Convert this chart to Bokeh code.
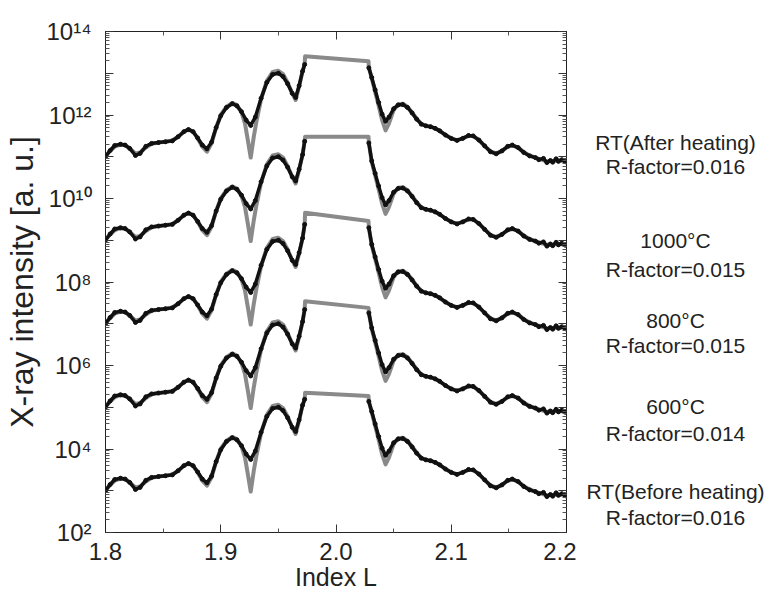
from bokeh.plotting import figure
from bokeh.layouts import row
from bokeh.models import (FixedTicker, CustomJSTickFormatter, LinearAxis, LogAxis,
                          Label, PrintfTickFormatter)
from bokeh.embed import file_html
from bokeh.resources import INLINE

# ---------------- data ----------------
# measured curve shape (log10 intensity, relative to each curve's stacking offset)
L_meas_left = [1.800, 1.804, 1.808, 1.813, 1.817, 1.821, 1.826, 1.830, 1.835, 1.840,
               1.846, 1.852, 1.858, 1.863, 1.868, 1.872, 1.876, 1.880, 1.884, 1.888,
               1.892, 1.896, 1.900, 1.905, 1.910, 1.914, 1.918, 1.922, 1.926, 1.930,
               1.935, 1.940, 1.945, 1.950, 1.954, 1.958, 1.962, 1.965, 1.968, 1.971]
rel_meas_left = [3.00, 3.15, 3.27, 3.30, 3.28, 3.20, 3.03, 3.08, 3.25, 3.32,
                 3.34, 3.36, 3.38, 3.48, 3.60, 3.65, 3.60, 3.45, 3.28, 3.19,
                 3.35, 3.70, 3.98, 4.18, 4.27, 4.22, 4.08, 3.88, 3.75, 3.95,
                 4.40, 4.78, 4.97, 5.00, 4.92, 4.75, 4.52, 4.42, 4.70, 5.05]
L_meas_right = [2.031, 2.034, 2.037, 2.040, 2.043, 2.046, 2.050, 2.054, 2.058, 2.062,
                2.066, 2.070, 2.074, 2.078, 2.082, 2.086, 2.090, 2.095, 2.100, 2.105,
                2.110, 2.115, 2.119, 2.124, 2.129, 2.134, 2.139, 2.144, 2.149, 2.153,
                2.158, 2.163, 2.168, 2.173, 2.176, 2.180, 2.183, 2.186, 2.188, 2.191,
                2.193, 2.196, 2.199]
rel_meas_right = [4.90, 4.60, 4.30, 4.02, 3.85, 3.95, 4.15, 4.24, 4.25, 4.18,
                  4.05, 3.90, 3.78, 3.74, 3.72, 3.68, 3.62, 3.52, 3.44, 3.39,
                  3.44, 3.51, 3.50, 3.40, 3.26, 3.12, 3.07, 3.14, 3.25, 3.28,
                  3.22, 3.10, 3.02, 2.98, 2.93, 2.96, 2.86, 2.91, 2.87, 2.95,
                  2.89, 2.93, 2.88]

# fitted curve shape
L_fit_left = [1.800, 1.804, 1.808, 1.813, 1.817, 1.821, 1.826, 1.830, 1.835, 1.840,
              1.846, 1.852, 1.858, 1.863, 1.868, 1.872, 1.876, 1.880, 1.884, 1.888,
              1.892, 1.896, 1.900, 1.905, 1.910, 1.914, 1.918, 1.921, 1.9235, 1.926,
              1.9285, 1.931, 1.935, 1.940, 1.945, 1.950, 1.954, 1.958, 1.962, 1.965,
              1.968, 1.971]
rel_fit_left = [3.02, 3.14, 3.24, 3.29, 3.28, 3.20, 3.08, 3.10, 3.22, 3.31,
                3.34, 3.36, 3.39, 3.48, 3.60, 3.66, 3.60, 3.44, 3.24, 3.12,
                3.32, 3.70, 4.00, 4.20, 4.29, 4.24, 4.06, 3.80, 3.40, 2.98,
                3.45, 3.85, 4.38, 4.82, 5.03, 5.06, 4.98, 4.78, 4.52, 4.36,
                4.68, 5.05]
L_fit_right = [2.031, 2.034, 2.037, 2.040, 2.043, 2.046, 2.050, 2.054, 2.058, 2.062,
               2.066, 2.070, 2.074, 2.078, 2.082, 2.086, 2.090, 2.095, 2.100, 2.105,
               2.110, 2.115, 2.119, 2.124, 2.129, 2.134, 2.139, 2.144, 2.149, 2.153,
               2.158, 2.163, 2.168, 2.173, 2.178, 2.183, 2.188, 2.193, 2.200]
rel_fit_right = [4.88, 4.55, 4.22, 3.88, 3.63, 3.80, 4.12, 4.26, 4.27, 4.20,
                 4.06, 3.91, 3.79, 3.74, 3.72, 3.68, 3.62, 3.52, 3.44, 3.40,
                 3.44, 3.50, 3.50, 3.40, 3.26, 3.13, 3.08, 3.14, 3.24, 3.27,
                 3.22, 3.11, 3.03, 2.98, 2.93, 2.89, 2.90, 2.91, 2.90]

# flat-top segment (fit) and edges of the measured gap
L_gap_start = 1.9732
L_gap_end = 2.0282

# per curve (bottom to top)
curve_names = ["RT(Before heating)", "600°C", "800°C", "1000°C", "RT(After heating)"]
r_factors = ["R-factor=0.016", "R-factor=0.014", "R-factor=0.015", "R-factor=0.015", "R-factor=0.016"]
offset_exp = [0, 2, 4, 6, 8]
meas_peak_left = [5.19, 5.34, 5.38, 5.37, 5.21]
meas_peak_right = [5.14, 5.26, 5.30, 5.33, 5.13]
fit_top_left = [5.35, 5.54, 5.66, 5.48, 5.41]
fit_top_right = [5.27, 5.38, 5.46, 5.48, 5.29]

# label baselines (log10 position)
name_y = [2.99, 5.02, 7.08, 9.00, 11.33]
rf_y = [2.37, 4.36, 6.47, 8.31, 10.76]

y_tick_exps = [2, 4, 6, 8, 10, 12, 14]
y_tick_labels = ["10²", "10⁴", "10⁶", "10⁸", "10¹⁰", "10¹²", "10¹⁴"]
x_ticks = [1.8, 1.9, 2.0, 2.1, 2.2]
x_minor = [1.85, 1.95, 2.05, 2.15]

FONT = "Liberation Sans"
TOP = 31
BOTTOM = 52

p = figure(frame_width=461, frame_height=501, y_axis_type="log",
           x_range=(1.8, 2.2), y_range=(1e2, 1e14),
           output_backend="svg", toolbar_location=None,
           min_border_left=99, min_border_right=10, min_border_top=TOP, min_border_bottom=BOTTOM)
p.grid.visible = False
p.outline_line_color = "#222222"

GRAY = "#8a8a8a"
for k in range(5):
    s = 10 ** offset_exp[k]
    fx = L_fit_left + [L_gap_start - 0.0004, L_gap_start, L_gap_end, L_gap_end + 0.0003] + L_fit_right
    fr = rel_fit_left + [meas_peak_left[k], fit_top_left[k], fit_top_right[k], meas_peak_right[k]] + rel_fit_right
    fy = [s * 10 ** v for v in fr]
    p.line(fx, fy, line_color=GRAY, line_width=4, line_join="round")

    mx1 = L_meas_left + [L_gap_start - 0.0004]
    my1 = [s * 10 ** v for v in rel_meas_left + [meas_peak_left[k]]]
    mx2 = [L_gap_end + 0.0003] + L_meas_right
    my2 = [s * 10 ** v for v in [meas_peak_right[k]] + rel_meas_right]
    for mx, my in ((mx1, my1), (mx2, my2)):
        p.line(mx, my, line_color="#111111", line_width=3.5, line_join="round")
        p.scatter(mx, my, size=4, color="#111111")

# ticks
yt_major = [10.0 ** e for e in range(2, 15)]
yt_minor = [m * 10.0 ** e for e in range(2, 14) for m in range(2, 10)]
yticker = FixedTicker(ticks=yt_major, minor_ticks=yt_minor)
xticker = FixedTicker(ticks=x_ticks, minor_ticks=x_minor)

yfmt = CustomJSTickFormatter(args=dict(exps=y_tick_exps, labels=y_tick_labels), code="""
const e = Math.round(Math.log10(tick));
const i = exps.indexOf(e);
return i >= 0 ? labels[i] : "";
""")
blank = CustomJSTickFormatter(code="return '';")


def style(ax):
    ax.axis_line_color = "#222222"
    ax.major_tick_line_color = "#333333"
    ax.minor_tick_line_color = "#555555"
    ax.major_tick_in = 8
    ax.major_tick_out = 0
    ax.minor_tick_in = 4
    ax.minor_tick_out = 0
    ax.major_label_text_font = FONT
    ax.major_label_text_font_size = "24px"
    ax.major_label_text_color = "#222222"
    ax.axis_label_text_font = FONT
    ax.axis_label_text_font_style = "normal"
    ax.axis_label_text_color = "#222222"


p.yaxis.ticker = yticker
p.yaxis.formatter = yfmt
p.xaxis.ticker = xticker
p.xaxis.formatter = PrintfTickFormatter(format="%.1f")
style(p.xaxis[0])
style(p.yaxis[0])
p.xaxis.axis_label = "Index L"
p.xaxis.axis_label_text_font_size = "25px"
p.xaxis.axis_label_standoff = 0
p.xaxis.major_label_standoff = 10
p.yaxis.axis_label = "X-ray intensity [a. u.]"
p.yaxis.axis_label_text_font_size = "32px"
p.yaxis.axis_label_standoff = 4
p.yaxis.major_label_standoff = 14

top = LinearAxis(ticker=xticker, formatter=blank)
style(top)
top.major_label_standoff = 0
p.add_layout(top, "above")
right = LogAxis(ticker=yticker, formatter=blank)
style(right)
right.major_label_standoff = 0
p.add_layout(right, "right")

# label panel to the right of the plot
p2 = figure(frame_width=190, frame_height=501, y_axis_type="log",
            x_range=(0, 190), y_range=(1e2, 1e14),
            output_backend="svg", toolbar_location=None,
            min_border_left=0, min_border_right=0, min_border_top=TOP, min_border_bottom=BOTTOM)
p2.axis.visible = False
p2.grid.visible = False
p2.outline_line_color = None

LX = 99
for k in range(5):
    p2.add_layout(Label(x=LX, y=10 ** name_y[k], text=curve_names[k], text_align="center",
                        text_baseline="alphabetic", text_font=FONT, text_font_size="21px",
                        text_color="#222222"))
    p2.add_layout(Label(x=LX, y=10 ** rf_y[k], text=r_factors[k], text_align="center",
                        text_baseline="alphabetic", text_font=FONT, text_font_size="21px",
                        text_color="#222222"))

layout = row(p, p2)
open("out.html", "w").write(file_html(layout, INLINE))
